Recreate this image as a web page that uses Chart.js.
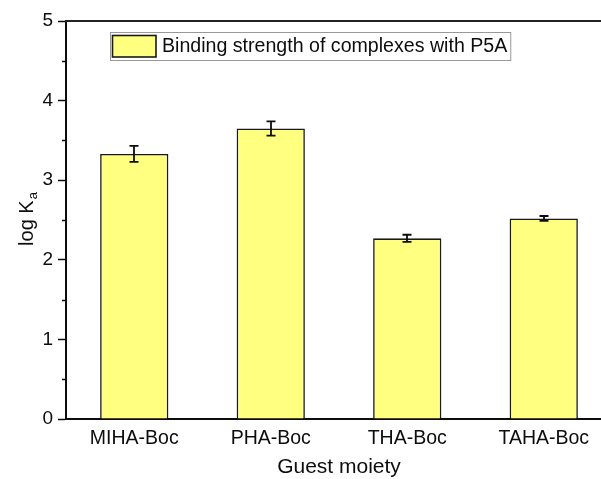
<!DOCTYPE html>
<html>
<head>
<meta charset="utf-8">
<script src="https://cdn.jsdelivr.net/npm/chart.js@4"></script>
<style>
  html, body { margin: 0; padding: 0; overflow: hidden; background: #fff; }
  #wrap { width: 616px; height: 479px; position: relative; }
</style>
</head>
<body>
<div id="wrap"><canvas id="c"></canvas></div>
<script>
// Binding constants (log Ka) of the Boc-protected guests with P5A
const categories = ['MIHA-Boc', 'PHA-Boc', 'THA-Boc', 'TAHA-Boc'];
const logKa = [3.33, 3.65, 2.27, 2.52];
const logKaError = [0.10, 0.09, 0.045, 0.03];
const yTicks = [0, 1, 2, 3, 4, 5];
const seriesLabel = 'Binding strength of complexes with P5A';

const FONT = "'Liberation Sans', Arial, Helvetica, sans-serif";
const INK = '#0d0d0d';
const BAR_FILL = '#ffff80';

// Error bars, minor ticks, top frame line, y title with subscript, and legend box
const decorations = {
  id: 'decorations',
  afterDatasetsDraw(chart) {
    const { ctx, scales } = chart;
    const y = scales.y;
    const meta = chart.getDatasetMeta(0);
    ctx.save();
    ctx.strokeStyle = INK;
    ctx.lineWidth = 1.8;
    meta.data.forEach((bar, i) => {
      const v = logKa[i], e = logKaError[i];
      const cx = Math.round(bar.x);
      const t = y.getPixelForValue(v + e);
      const b = y.getPixelForValue(v - e);
      ctx.beginPath();
      ctx.moveTo(cx, t); ctx.lineTo(cx, b);
      ctx.moveTo(cx - 4.5, t); ctx.lineTo(cx + 4.5, t);
      ctx.moveTo(cx - 4.5, b); ctx.lineTo(cx + 4.5, b);
      ctx.stroke();
    });
    ctx.restore();
  },
  afterDraw(chart) {
    const { ctx, chartArea, scales } = chart;
    const y = scales.y;
    ctx.save();

    // minor ticks halfway between the labelled ones
    ctx.strokeStyle = INK;
    ctx.lineWidth = 1.5;
    for (let k = 0; k < yTicks.length - 1; k++) {
      const py = Math.round(y.getPixelForValue((yTicks[k] + yTicks[k + 1]) / 2)) + 0.5;
      ctx.beginPath();
      ctx.moveTo(chartArea.left - 4, py);
      ctx.lineTo(chartArea.left, py);
      ctx.stroke();
    }

    // top frame line
    ctx.strokeStyle = '#222';
    ctx.lineWidth = 2;
    ctx.beginPath();
    ctx.moveTo(chartArea.left - 1, chartArea.top);
    ctx.lineTo(chart.width, chartArea.top);
    ctx.stroke();

    // y axis title: log K with subscript a
    ctx.fillStyle = INK;
    ctx.textBaseline = 'alphabetic';
    ctx.textAlign = 'left';
    const mainFont = '20px ' + FONT, subFont = '13px ' + FONT;
    ctx.font = mainFont;
    const w1 = ctx.measureText('log K').width;
    ctx.font = subFont;
    const w2 = ctx.measureText('a').width;
    const cy = (chartArea.top + chartArea.bottom) / 2 - 1;
    ctx.translate(33, cy + (w1 + w2 + 1) / 2);
    ctx.rotate(-Math.PI / 2);
    ctx.font = mainFont;
    ctx.fillText('log K', 0, 0);
    ctx.font = subFont;
    ctx.fillText('a', w1 + 1, 4);
    ctx.setTransform(1, 0, 0, 1, 0, 0);

    // legend box
    const lx = chartArea.left + 44, ly = chartArea.top + 11;
    ctx.font = '19.6px ' + FONT;
    const tw = ctx.measureText(seriesLabel).width;
    const bw = 52 + tw + 3, bh = 28;
    ctx.strokeStyle = '#999';
    ctx.lineWidth = 1;
    ctx.strokeRect(lx + 0.5, ly + 0.5, bw, bh);
    ctx.fillStyle = BAR_FILL;
    ctx.fillRect(lx + 2.5, ly + 3.5, 43.5, 21.5);
    ctx.strokeStyle = '#1a1a1a';
    ctx.lineWidth = 1.6;
    ctx.strokeRect(lx + 2.5, ly + 3.5, 43.5, 21.5);
    ctx.fillStyle = INK;
    ctx.textBaseline = 'middle';
    ctx.fillText(seriesLabel, lx + 52, ly + bh / 2 + 1);
    ctx.restore();
  }
};

new Chart(document.getElementById('c'), {
  type: 'bar',
  data: {
    labels: categories,
    datasets: [{
      label: seriesLabel,
      data: logKa,
      backgroundColor: BAR_FILL,
      borderColor: '#1a1a1a',
      borderWidth: 1.6,
      borderSkipped: 'start',
      barPercentage: 0.5,
      categoryPercentage: 1.0
    }]
  },
  options: {
    responsive: true,
    maintainAspectRatio: false,
    devicePixelRatio: 1,
    animation: false,
    layout: { padding: { left: 0, top: 21, right: 4, bottom: 0 } },
    plugins: {
      legend: { display: false },
      tooltip: { enabled: false }
    },
    scales: {
      x: {
        type: 'category',
        offset: true,
        grid: { display: true, drawOnChartArea: false, drawTicks: false },
        border: { display: true, color: INK, width: 2 },
        ticks: { color: INK, font: { family: FONT, size: 19.5 }, padding: 8, maxRotation: 0 },
        title: {
          display: true,
          text: 'Guest moiety',
          color: INK,
          font: { family: FONT, size: 21, lineHeight: 1.1 },
          padding: { top: 0, bottom: 0 }
        },
        afterFit(scale) { scale.height = 60; }
      },
      y: {
        min: 0,
        max: 5,
        afterBuildTicks(scale) { scale.ticks = yTicks.map(v => ({ value: v })); },
        grid: { drawOnChartArea: false, drawTicks: true, tickLength: 8, tickWidth: 1.5, tickColor: INK },
        border: { display: true, color: INK, width: 2 },
        ticks: { color: INK, font: { family: FONT, size: 19 }, padding: 5 },
        afterFit(scale) { scale.width = 66; }
      }
    }
  },
  plugins: [decorations]
});
</script>
</body>
</html>
